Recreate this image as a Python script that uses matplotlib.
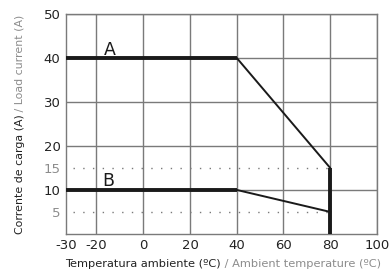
#!/usr/bin/env python3

import matplotlib
matplotlib.use("Agg")
import matplotlib.pyplot as plt

# derating curves (temperature ºC -> load current A)
temp_a = [-33, 40, 80, 80]
curr_a = [40, 40, 15, 0]
temp_b = [-33, 40, 80]
curr_b = [10, 10, 5]

x_ticks = [-33, -20, 0, 20, 40, 60, 80, 100]
x_labels = ["-30", "-20", "0", "20", "40", "60", "80", "100"]
y_ticks = [10, 20, 30, 40, 50]
y_extra = [5, 15]

grid_col = "#7a7a7a"
grey_txt = "#8c8c8c"

plt.rcParams['font.family'] = ['DejaVu Sans']

fig = plt.figure(figsize=(3.91, 2.72), dpi=100)
ax = fig.add_axes([0.169, 0.140, 0.795, 0.809])

ax.set_xlim(-33, 100)
ax.set_ylim(0, 50)

# grid
for x in x_ticks[1:]:
    ax.axvline(x, color=grid_col, lw=1.0, zorder=1)
for y in y_ticks:
    ax.axhline(y, color=grid_col, lw=1.0, zorder=1)

# dotted reference levels
for y in y_extra:
    ax.plot([-30, 79], [y, y], color=grid_col, lw=1.0, ls=(0, (1, 6)), zorder=1)

ax.plot(temp_a, curr_a, color="#1a1a1a", lw=1.4, zorder=3)
ax.plot(temp_a[:2], curr_a[:2], color="#1a1a1a", lw=2.8, zorder=3, solid_capstyle="butt")
ax.plot(temp_a[2:], curr_a[2:], color="#1a1a1a", lw=2.8, zorder=3, solid_capstyle="butt")
ax.plot(temp_b, curr_b, color="#1a1a1a", lw=1.4, zorder=3)
ax.plot(temp_b[:2], curr_b[:2], color="#1a1a1a", lw=2.8, zorder=3, solid_capstyle="butt")

ax.text(-14.5, 40.6, "A", fontsize=12.5, ha="center", va="baseline", color="#1a1a1a")
ax.text(-15, 10.9, "B", fontsize=12.5, ha="center", va="baseline", color="#1a1a1a")

for s in ax.spines.values():
    s.set_color(grid_col)
    s.set_linewidth(1.0)

ax.set_xticks(x_ticks)
ax.set_xticklabels(x_labels)
ax.set_yticks(sorted(y_ticks + y_extra))
ax.set_yticklabels([str(v) for v in sorted(y_ticks + y_extra)])
ax.tick_params(length=0, labelsize=9.5, pad=4, colors="#222222")
for lbl in ax.get_yticklabels():
    if int(lbl.get_text()) in y_extra:
        lbl.set_color(grey_txt)

# two-colour axis titles
t1 = fig.text(0.166, 0.010, "Temperatura ambiente (ºC)", fontsize=8.2, color="#222222",
              ha="left", va="bottom")
ax.annotate(" / Ambient temperature (ºC)", xy=(1, 0), xycoords=t1, fontsize=8.2,
            color=grey_txt, ha="left", va="bottom", annotation_clip=False)

t2 = fig.text(0.038, 0.138, "Corrente de carga (A)", fontsize=7.9, color="#222222",
              rotation=90, ha="left", va="bottom")
ax.annotate(" / Load current (A)", xy=(0, 1), xycoords=t2, fontsize=7.9,
            color=grey_txt, rotation=90, ha="left", va="bottom", annotation_clip=False)

fig.savefig("out.png", dpi=100)
